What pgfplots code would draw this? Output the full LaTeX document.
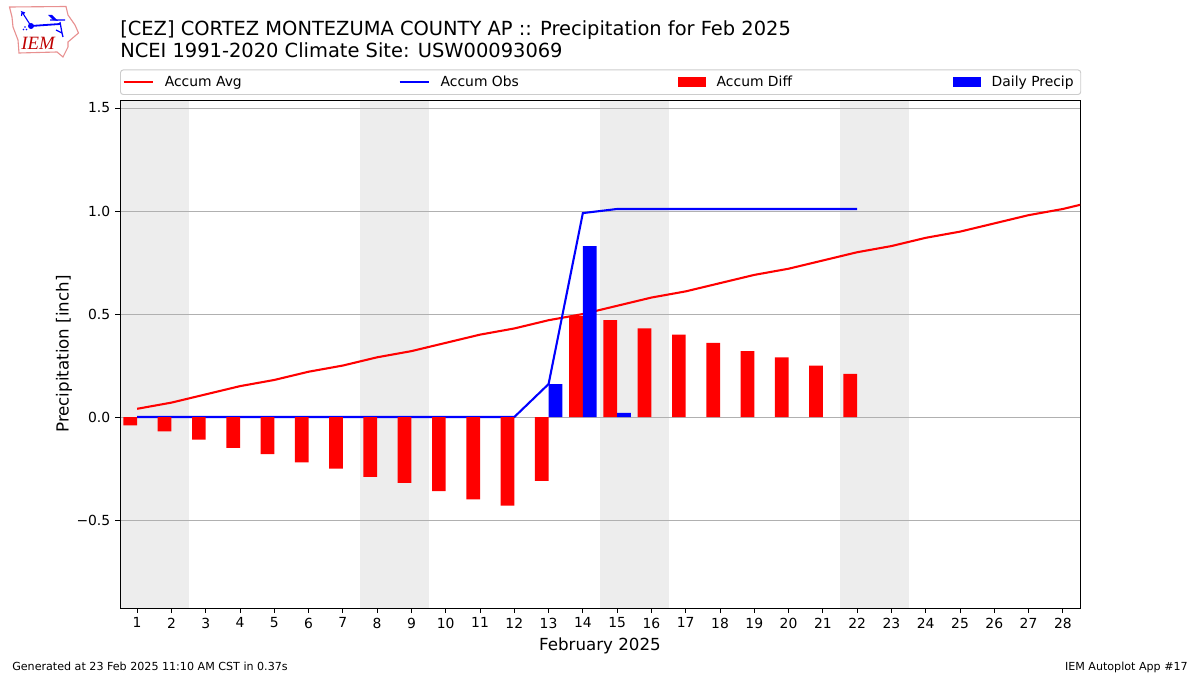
\documentclass[border=0pt]{standalone}
\usepackage{fontspec}
\setmainfont{DejaVu Sans}
\newfontfamily\logofont{Liberation Serif}
\usepackage{pgfplots}
\pgfplotsset{compat=1.18}
\usepackage{pgfplotstable}
\definecolor{wkndc}{HTML}{EDEDED}
\definecolor{gridc}{HTML}{B0B0B0}
\definecolor{legc}{HTML}{CCCCCC}
\definecolor{logor}{HTML}{E89090}
\pgfplotstableread{
day avg
1 0.04
2 0.07
3 0.11
4 0.15
5 0.18
6 0.22
7 0.25
8 0.29
9 0.32
10 0.36
11 0.40
12 0.43
13 0.47
14 0.50
15 0.54
16 0.58
17 0.61
18 0.65
19 0.69
20 0.72
21 0.76
22 0.80
23 0.83
24 0.87
25 0.90
26 0.94
27 0.98
28 1.01
29 1.05
}\avgtable
\pgfplotstableread{
day obs diff
1 0 -0.04
2 0 -0.07
3 0 -0.11
4 0 -0.15
5 0 -0.18
6 0 -0.22
7 0 -0.25
8 0 -0.29
9 0 -0.32
10 0 -0.36
11 0 -0.40
12 0 -0.43
13 0.16 -0.31
14 0.99 0.49
15 1.01 0.47
16 1.01 0.43
17 1.01 0.40
18 1.01 0.36
19 1.01 0.32
20 1.01 0.29
21 1.01 0.25
22 1.01 0.21
}\obstable
\pgfplotstableread{
day precip
13 0.16
14 0.83
15 0.02
}\dailytable
\begin{document}
\begin{tikzpicture}
\begin{scope}[x=0.72pt,y=0.72pt]
\path (0,0) rectangle (1200,675);
% logo
\draw[logor,line width=0.8pt,fill=white] (9.5,668) -- (66,668.5) -- (68,660) -- (75,650) -- (78.5,642) -- (68,633) -- (68,628) -- (65,622) -- (63,618) -- (57,623) -- (19,622) -- (18,635) -- (13,648) -- (12,658) -- cycle;
\draw[blue,line width=1.3pt] (31,649) -- (60,651);
\fill[blue] (31,649) circle (3);
\draw[blue,line width=0.8pt] (31,649) -- (22,663) -- (25,662) (22,663) -- (21.5,659);
\fill[blue] (48,660) -- (52,660) -- (58,654) -- (53,655) -- cycle;
\draw[blue,line width=0.9pt] (50,655) -- (65,655) (60,653) -- (62,642) -- (56,645) (62,642) -- (63,638);
\fill[blue] (25,648) circle (0.8) (23.5,645.5) circle (0.8) (26.5,645.5) circle (0.8);
\node[anchor=base,text=red!75!black,font=\logofont\itshape\fontsize{13.5}{15}\selectfont,inner sep=0pt] at (38,625) {IEM};
% titles
\node[anchor=base west,inner sep=0pt,font=\fontsize{14}{16}\selectfont] at (120,639) {[CEZ] CORTEZ MONTEZUMA COUNTY AP :: Precipitation for Feb 2025};
\node[anchor=base west,inner sep=0pt,font=\fontsize{14}{16}\selectfont] at (120,617) {NCEI 1991-2020 Climate Site: USW00093069};
% footers
\node[anchor=base west,inner sep=0pt,font=\fontsize{8}{10}\selectfont] at (12,5) {Generated at 23 Feb 2025 11:10 AM CST in 0.37s};
\node[anchor=base east,inner sep=0pt,font=\fontsize{8}{10}\selectfont] at (1188,5) {IEM Autoplot App \#17};
\end{scope}
\begin{axis}[
  at={(86.4pt,48.24pt)}, anchor=south west,
  set layers,
  scale only axis,
  width=691.2pt, height=365.76pt,
  xmin=0.5, xmax=28.5, ymin=-0.927, ymax=1.539,
  xtick={1,...,28},
  ytick={-0.5,0,0.5,1,1.5},
  yticklabels={−0.5,0.0,0.5,1.0,1.5},
  /pgf/number format/assume math mode=true,
  tick style={black,line width=0.7pt},
  tick align=outside,
  tick pos=left,
  major tick length=3.5pt,
  axis line style={line width=0.7pt},
  ymajorgrids,
  grid style={gridc,line width=0.7pt},
  tick label style={font=\fontsize{10}{12}\selectfont},
  xlabel={February 2025},
  ylabel={Precipitation [inch]},
  label style={font=\fontsize{12}{14}\selectfont},
  xlabel style={at={(axis description cs:0.5,0)},anchor=base,yshift=-30.5pt,inner sep=0pt},
  ylabel style={at={(axis description cs:0,0.5)},anchor=base,yshift=37pt,inner sep=0pt},
  legend columns=4,
  legend cell align=left,
  legend style={
    at={(rel axis cs:0,1)}, anchor=south west, yshift=3.6pt,
    draw=legc, line width=0.7pt, rounded corners=2pt,
    font=\fontsize{10}{12}\selectfont,
    inner xsep=1.5pt, inner ysep=2.3pt,
    /tikz/column 1/.style={column sep=6pt},
    /tikz/column 2/.style={column sep=110.8pt},
    /tikz/column 3/.style={column sep=6pt},
    /tikz/column 4/.style={column sep=112.2pt},
    /tikz/column 5/.style={column sep=6pt},
    /tikz/column 6/.style={column sep=113.5pt},
    /tikz/column 7/.style={column sep=6pt},
    /tikz/column 8/.style={column sep=0pt},
  },
  linelegend/.style={legend image code/.code={\draw[##1,sharp corners] (0pt,0pt) -- (20.9pt,0pt);}},
  barlegend/.style={legend image code/.code={\fill[##1,sharp corners] (0pt,-3.6pt) rectangle (20.2pt,3.6pt);}},
]
\begin{pgfonlayer}{axis background}
  \fill[wkndc] (axis cs:0.5,-0.927) rectangle (axis cs:2.5,1.539);
  \fill[wkndc] (axis cs:7.5,-0.927) rectangle (axis cs:9.5,1.539);
  \fill[wkndc] (axis cs:14.5,-0.927) rectangle (axis cs:16.5,1.539);
  \fill[wkndc] (axis cs:21.5,-0.927) rectangle (axis cs:23.5,1.539);
\end{pgfonlayer}
\addplot[red,line width=1.5pt,linelegend] table[x=day,y=avg] {\avgtable};
\addlegendentry{Accum Avg}
\addplot[blue,line width=1.5pt,linelegend] table[x=day,y=obs] {\obstable};
\addlegendentry{Accum Obs}
\addplot[ybar,bar width=0.4,bar shift=-0.2,fill=red,draw=none,barlegend] table[x=day,y=diff] {\obstable};
\addlegendentry{Accum Diff}
\addplot[ybar,bar width=0.4,bar shift=0.2,fill=blue,draw=none,barlegend] table[x=day,y=precip] {\dailytable};
\addlegendentry{Daily Precip\hspace*{1.6pt}}
\end{axis}
\end{tikzpicture}
\end{document}
